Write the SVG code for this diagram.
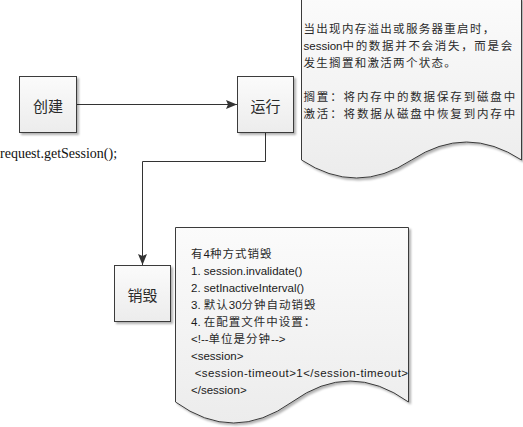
<svg xmlns="http://www.w3.org/2000/svg" width="523" height="427" viewBox="0 0 523 427">
  <style>
    .shape { fill: url(#g); stroke: #3a3a3a; stroke-width: 1; filter: url(#sh); }
    .conn { fill: none; stroke: #333; stroke-width: 1; }
    .lbl { font-family: "Noto Sans CJK SC", sans-serif; font-size: 15px; fill: #2a2a2a; text-anchor: middle; dominant-baseline: central; }
    .t { font-family: "Noto Sans CJK SC", sans-serif; font-size: 11.5px; fill: #2a2a2a; letter-spacing: 1.3px; }
    .n2 { letter-spacing: 1px; }
    .l { font-family: "Liberation Sans", Arial, sans-serif; font-size: 11.5px; fill: #1a1a1a; letter-spacing: 0; }
    .serif { font-family: "Liberation Serif", "Times New Roman", serif; font-size: 14px; fill: #111; }
  </style>
  <defs>
    <linearGradient id="g" x1="0" y1="0" x2="0" y2="1">
      <stop offset="0" stop-color="#fbfbfb"/>
      <stop offset="1" stop-color="#ececec"/>
    </linearGradient>
    <filter id="sh" x="-10%" y="-10%" width="130%" height="130%">
      <feDropShadow dx="2" dy="2" stdDeviation="1.2" flood-color="#000" flood-opacity="0.3"/>
    </filter>
    <marker id="arr" markerUnits="userSpaceOnUse" markerWidth="12" markerHeight="10" refX="11" refY="4.5" orient="auto">
      <path d="M0,0 L11,4.5 L0,9 L2,4.5 z" fill="#333"/>
    </marker>
  </defs>

  <g id="connectors">
    <line class="conn" x1="77" y1="104.5" x2="237" y2="104.5" marker-end="url(#arr)"/>
    <polyline class="conn" points="265.5,133 265.5,161.5 142.5,161.5 142.5,265" marker-end="url(#arr)"/>
  </g>

  <g id="create">
    <rect class="shape" x="19.5" y="76.5" width="57" height="56"/>
    <text class="lbl" x="48" y="105">创建</text>
  </g>

  <g id="run">
    <rect class="shape" x="237.5" y="76.5" width="56" height="56"/>
    <text class="lbl" x="265.5" y="105">运行</text>
  </g>

  <g id="destroy">
    <rect class="shape" x="114.5" y="265.5" width="56" height="56"/>
    <text class="lbl" x="142.5" y="294">销毁</text>
  </g>

  <g id="create-label">
    <text class="serif" x="0" y="158">request.getSession();</text>
  </g>

  <g id="note-passivation">
    <path class="shape" d="M301.5,-2 H521.5 V160 Q466.5,124 411.5,160 Q356.5,196 301.5,160 Z"/>
    <text class="t" x="303.5" y="33">当出现内存溢出或服务器重启时，</text>
    <text class="l" x="303.5" y="50">session</text>
    <text class="t" x="342.5" y="50" textLength="171" lengthAdjust="spacing">中的数据并不会消失，而是会</text>
    <text class="t" x="303.5" y="67">发生搁置和激活两个状态。</text>
    <text class="t" x="303.5" y="101" textLength="213" lengthAdjust="spacing">搁置：将内存中的数据保存到磁盘中</text>
    <text class="t" x="303.5" y="118" textLength="213" lengthAdjust="spacing">激活：将数据从磁盘中恢复到内存中</text>
  </g>

  <g id="note-destroy">
    <path class="shape" d="M175.5,227.5 H408.5 V402 Q350,360 292,402 Q233.5,444 175.5,402 Z"/>
    <text class="t n2" x="191" y="258">有<tspan class="l">4</tspan>种方式销毁</text>
    <text class="l" x="191" y="275">1. session.invalidate()</text>
    <text class="l" x="191" y="292">2. setInactiveInterval()</text>
    <text class="t n2" x="191" y="309"><tspan class="l">3. </tspan>默认<tspan class="l">30</tspan>分钟自动销毁</text>
    <text class="t n2" x="191" y="326"><tspan class="l">4. </tspan>在配置文件中设置：</text>
    <text class="t n2" x="191" y="343"><tspan class="l">&lt;!--</tspan>单位是分钟<tspan class="l">--&gt;</tspan></text>
    <text class="l" x="191" y="360">&lt;session&gt;</text>
    <text class="l" x="191" y="377" textLength="217" lengthAdjust="spacing" xml:space="preserve"> &lt;session-timeout&gt;1&lt;/session-timeout&gt;</text>
    <text class="l" x="191" y="394">&lt;/session&gt;</text>
  </g>
</svg>
